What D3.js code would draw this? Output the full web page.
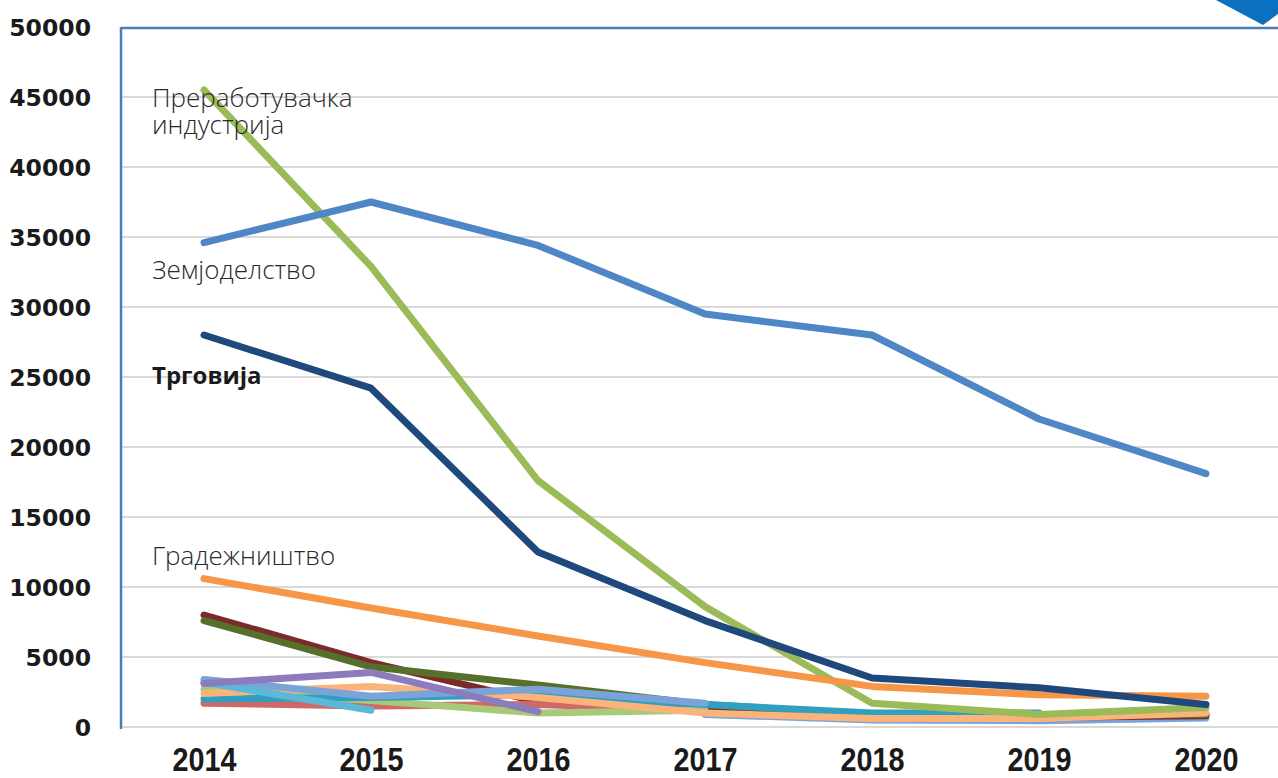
<!DOCTYPE html>
<html>
<head>
<meta charset="utf-8">
<script src="https://cdn.jsdelivr.net/npm/d3@7"></script>
<style>
  html, body { margin: 0; padding: 0; background: #fff; }
  svg { display: block; }
</style>
</head>
<body>
<svg id="chart" width="1278" height="778"></svg>
<script>
// ---- data ----
const years = [2014, 2015, 2016, 2017, 2018, 2019, 2020];
const yTicks = [0, 5000, 10000, 15000, 20000, 25000, 30000, 35000, 40000, 45000, 50000];

const seriesNames = [
  "Сина долна", "Темноцрвена", "Црвена", "Маслинеста", "Светлозелена",
  "Тиркизна", "Светлопортокалова", "Светлосина", "Цијан", "Виолетова",
  "Преработувачка индустрија", "Градежништво", "Трговија", "Земјоделство"
];
const seriesValues = [
  [null, null, null, 900, 500, 450, 650],
  [8000, 4600, 1800, 1300, 800, 700, 800],
  [1700, 1500, 1600, 1200, null, null, null],
  [7600, 4300, 3000, 1600, 900, 800, 900],
  [2700, 1900, 1000, 1200, null, null, null],
  [2000, 2100, 2300, 1600, 1000, 1000, null],
  [2400, 2900, 2100, 1000, 600, 600, 1000],
  [3400, 2200, 2700, 1700, null, null, null],
  [3200, 1200, null, null, null, null, null],
  [3100, 3900, 1100, null, null, null, null],
  [45500, 32900, 17600, 8600, 1700, 900, 1400],
  [10600, 8500, 6500, 4600, 2900, 2300, 2200],
  [28000, 24200, 12500, 7600, 3500, 2800, 1600],
  [34600, 37500, 34400, 29500, 28000, 22000, 18100]
];
const seriesColors = [
  "#7aa3d8", "#7a2c2b", "#d06868", "#56702c", "#a9c97a",
  "#31a0c0", "#fab37a", "#7aa3d8", "#5bb8d6", "#8c7bbd",
  "#9bbb59", "#f79646", "#1f497d", "#4f86c6"
];

const labels = [
  { lines: ["Преработувачка", "индустрија"], value: 44300, bold: false },
  { lines: ["Земјоделство"], value: 32000, bold: false },
  { lines: ["Трговија"], value: 24500, bold: true },
  { lines: ["Градежништво"], value: 11570, bold: false }
];

// ---- layout ----
const W = 1278, H = 778;
const svg = d3.select("#chart");
const x = d3.scaleLinear().domain([2014, 2020]).range([204, 1206]);
const y = d3.scaleLinear().domain([0, 50000]).range([727, 27]);
const plotLeft = 121, plotRight = W;

// gridlines
svg.append("g").selectAll("line").data(yTicks.filter(d => d < 50000)).join("line")
  .attr("x1", plotLeft).attr("x2", plotRight)
  .attr("y1", d => y(d)).attr("y2", d => y(d))
  .attr("stroke", "#d9d9d9").attr("stroke-width", 2);

// frame (top + left) in blue
svg.append("line").attr("x1", plotLeft).attr("x2", plotRight)
  .attr("y1", y(50000) + 1).attr("y2", y(50000) + 1)
  .attr("stroke", "#4a7ebb").attr("stroke-width", 2.5);
svg.append("line").attr("x1", plotLeft).attr("x2", plotLeft)
  .attr("y1", y(50000)).attr("y2", y(0) + 2)
  .attr("stroke", "#4a7ebb").attr("stroke-width", 2.5);

// decorative triangle top right
svg.append("path")
  .attr("d", "M1216,0 L1278,0 L1278,14 L1263,25 Z")
  .attr("fill", "#0a70bf");

// y axis labels
const yAxis = d3.axisLeft(y).tickValues(yTicks).tickSize(0).tickPadding(0).tickFormat(d3.format("d"));
const gy = svg.append("g").attr("transform", "translate(91,0)").call(yAxis);
gy.select(".domain").remove();
gy.selectAll("text")
  .attr("dy", "0.36em")
  .style("font-family", "'DejaVu Sans', sans-serif")
  .style("font-weight", "bold")
  .style("font-size", "23.5px")
  .attr("fill", "#1a1a1a");

// x axis labels
const xAxis = d3.axisBottom(x).tickValues(years).tickSize(0).tickPadding(0).tickFormat(d3.format("d"));
const gx = svg.append("g").attr("transform", "translate(0,771)").call(xAxis);
gx.select(".domain").remove();
gx.selectAll("text")
  .attr("dy", "0")
  .attr("textLength", 64)
  .attr("lengthAdjust", "spacingAndGlyphs")
  .style("font-family", "'Liberation Sans', sans-serif")
  .style("font-weight", "bold")
  .style("font-size", "33px")
  .attr("fill", "#1a1a1a");

// lines
const line = d3.line()
  .defined(d => d != null)
  .x((d, i) => x(years[i]))
  .y(d => y(d));

svg.append("g").selectAll("path").data(seriesValues).join("path")
  .attr("d", d => line(d))
  .attr("fill", "none")
  .attr("stroke", (d, i) => seriesColors[i])
  .attr("stroke-width", 7)
  .attr("stroke-linecap", "round")
  .attr("stroke-linejoin", "round");

// series labels
const lg = svg.append("g");
labels.forEach(l => {
  l.lines.forEach((s, i) => {
    lg.append("text")
      .attr("x", 152)
      .attr("y", y(l.value) + i * 27)
      .style("font-family", "'Open Sans', 'Noto Sans', sans-serif")
      .style("font-weight", l.bold ? "bold" : "300")
      .style("font-size", l.bold ? "24px" : "26px")
      .attr("fill", l.bold ? "#1a1a1a" : "#2a2a2a")
      .text(s);
  });
});
</script>
</body>
</html>
